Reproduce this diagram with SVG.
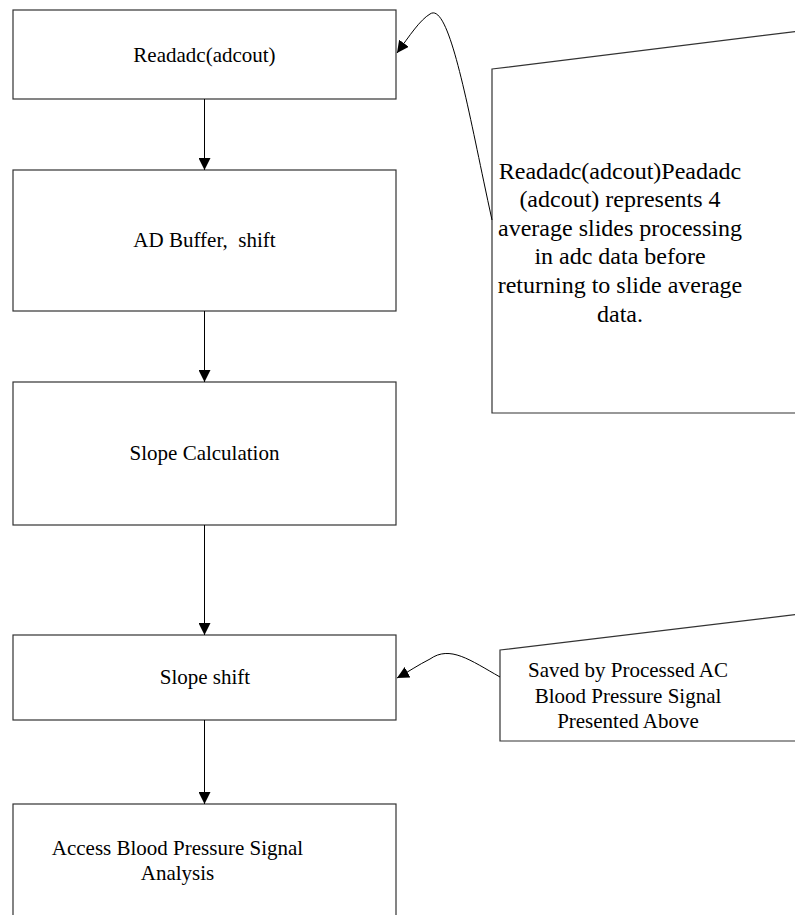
<svg xmlns="http://www.w3.org/2000/svg" width="795" height="915" viewBox="0 0 795 915">
<style>
.box{fill:#fff;stroke:#333;stroke-width:1.2}
text{font-family:'Liberation Serif','Times New Roman','DejaVu Serif',serif;fill:#000;text-anchor:middle}
.t{font-size:21px}
.t2{font-size:24px}
.c{fill:none;stroke:#000;stroke-width:1}
</style>
<defs>
<marker id="ah" viewBox="0 0 12 12" refX="12" refY="6" markerWidth="12" markerHeight="12" markerUnits="userSpaceOnUse" orient="auto">
<path d="M0,0 L12,6 L0,12 Z" fill="#000"/>
</marker>
</defs>
<rect width="795" height="915" fill="#fff"/>
<g id="n1"><rect class="box" x="13" y="10" width="383" height="89"/><text class="t" x="204.5" y="62" font-family="Liberation Serif">Readadc(adcout)</text></g>
<g id="n2"><rect class="box" x="13" y="170" width="383" height="141"/><text class="t" x="204.5" y="247" xml:space="preserve">AD Buffer,  shift</text></g>
<g id="n3"><rect class="box" x="13" y="382" width="383" height="143"/><text class="t" x="204.5" y="460">Slope Calculation</text></g>
<g id="n4"><rect class="box" x="13" y="635" width="383" height="85"/><text class="t" x="205" y="684">Slope shift</text></g>
<g id="n5"><rect class="box" x="13" y="804" width="383" height="130"/><text class="t" x="177.5" y="855">Access Blood Pressure Signal</text><text class="t" x="177.5" y="880">Analysis</text></g>
<g id="note1"><polygon class="box" points="492,69 800,31 800,413 492,413"/>
<text class="t2" x="620" y="179">Readadc(adcout)Peadadc</text>
<text class="t2" x="620" y="207">(adcout) represents 4</text>
<text class="t2" x="620" y="236">average slides processing</text>
<text class="t2" x="620" y="264">in adc data before</text>
<text class="t2" x="620" y="293">returning to slide average</text>
<text class="t2" x="620" y="322">data.</text></g>
<g id="note2"><polygon class="box" points="500,650 800,614 800,741 500,741"/>
<text class="t" x="628" y="677">Saved by Processed AC</text>
<text class="t" x="628" y="703">Blood Pressure Signal</text>
<text class="t" x="628" y="728">Presented Above</text></g>
<g id="connectors">
<line class="c" x1="204.5" y1="99" x2="204.5" y2="170" marker-end="url(#ah)"/>
<line class="c" x1="204.5" y1="311" x2="204.5" y2="382" marker-end="url(#ah)"/>
<line class="c" x1="204.5" y1="525" x2="204.5" y2="635" marker-end="url(#ah)"/>
<line class="c" x1="204.5" y1="720" x2="204.5" y2="804" marker-end="url(#ah)"/>
<path class="c" d="M492,220 C470,120 450,0 430,14 C420,20 410,35 397,53" marker-end="url(#ah)"/>
<path class="c" d="M500,677 C470,660 450,645 430,659 C418,665 408,672 397,678" marker-end="url(#ah)"/>
</g>
</svg>
